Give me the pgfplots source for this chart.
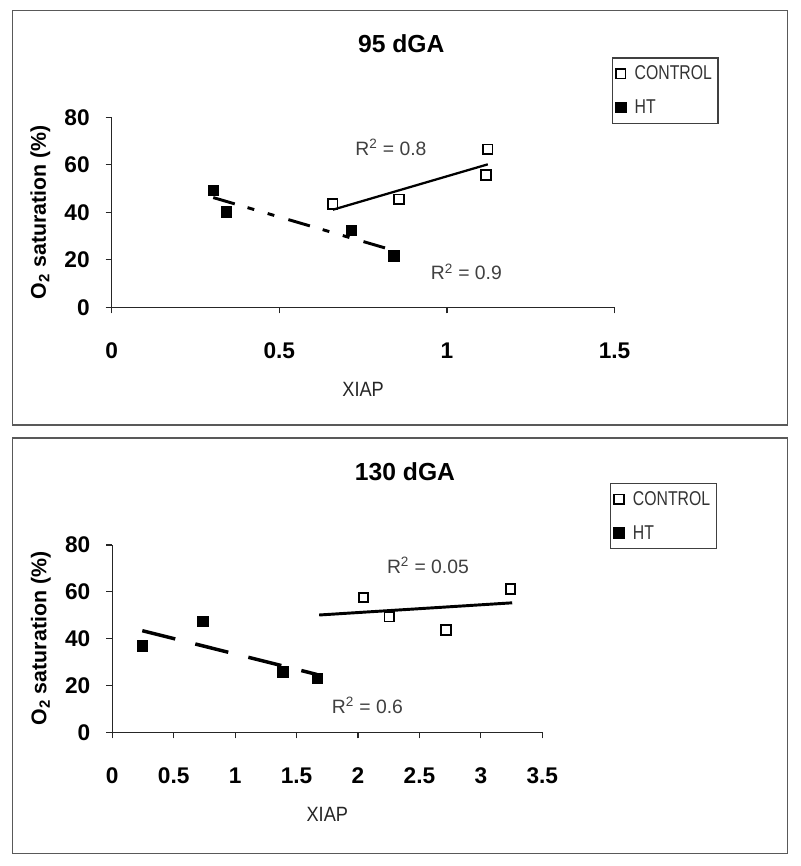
\documentclass[border=0pt]{standalone}
\usepackage{fontspec}
\setmainfont{Liberation Sans}
\newfontfamily\condfont[FakeStretch=0.79]{Liberation Sans}
\newfontfamily\xfont[FakeStretch=0.88]{Liberation Sans}
\usepackage{pgfplots}
\pgfplotsset{compat=1.18}

\tikzset{rsq/.style={font=\fontsize{14.5}{14.5}\selectfont, text=black!75, anchor=base, inner sep=0pt}}
\pgfplotsset{
  panel/.style={
    scale only axis,
    anchor=south west,
    axis x line=bottom, axis y line=left,
    axis line style={-, line width=0.9pt, black!85},
    every tick/.style={line width=0.9pt, black!85},
    tick align=outside, major tick length=4.5pt,
    xmin=0, ymin=0, ymax=80, ytick={0,20,40,60,80},
    clip=false,
    /pgf/number format/assume math mode=true,
    ticklabel style={font=\bfseries\fontsize{17}{17}\selectfont},
    xticklabel style={anchor=north, inner sep=0pt, yshift=-21.8pt},
    yticklabel style={anchor=east, inner sep=0pt, xshift=-11.8pt},
    xlabel={XIAP},
    xlabel style={font=\xfont\fontsize{15.5}{15.5}\selectfont, text=black!85, anchor=center},
    ylabel={O\textsubscript{2} saturation (\%)},
    ylabel style={font=\bfseries\fontsize{16}{16}\selectfont, anchor=center},
    legend style={anchor=north west, draw=black!75, line width=0.9pt, fill=white,
      font=\condfont\fontsize{15}{15}\selectfont\color{black!80},
      inner xsep=2.5pt, inner ysep=3.8pt, row sep=9.5pt, column sep=4.5pt,
      cells={anchor=west}},
  },
  ctrl/.style={only marks, mark=square, mark size=3.6pt,
    mark options={line width=1.3pt, draw=black, fill=white},
    legend image code/.code={\draw[##1] plot coordinates {(0cm,0cm)};}},
  ht/.style={only marks, mark=square*, mark size=3.9pt,
    mark options={draw=black, fill=black},
    legend image code/.code={\draw[##1] plot coordinates {(0cm,0cm)};}},
}

\begin{document}
\begin{tikzpicture}
% canvas 800 x 866 px, 1 px = 0.75 pt
\path[fill=white] (0pt,0pt) rectangle (600pt,-649.5pt);
% frames
\draw[line width=1.2pt, black!65] (9.5pt,-8pt) rectangle (590.5pt,-318.75pt);
\draw[line width=1.2pt, black!65] (9.5pt,-328.7pt) rectangle (590.5pt,-640pt);
% titles
\node[font=\bfseries\fontsize{18.5}{18.5}\selectfont, anchor=center] at (301pt,-33pt) {95 dGA};
\node[font=\bfseries\fontsize{18.5}{18.5}\selectfont, anchor=center] at (303.75pt,-353.6pt) {130 dGA};

% ---------- top panel ----------
\begin{axis}[panel,
  at={(83.775pt,-230.475pt)},
  width=377.1pt, height=142.5pt,
  xmax=1.5, xtick={0,0.5,1,1.5},
  xticklabel style={/pgf/number format/fixed},
  xlabel style={at={(axis description cs:0.5,-0.430)}},
  ylabel style={at={(axis description cs:-0.142,0.5)}},
  legend style={at={(axis description cs:0.9944,1.3158)}},
]
\addplot[ctrl] coordinates {(0.659,43.5) (0.857,45.5) (1.117,55.7) (1.122,66.5)};
\addlegendentry{CONTROL}
\addplot[ht] coordinates {(0.303,49.4) (0.341,40.3) (0.714,32.5) (0.842,21.7)};
\addlegendentry{HT}
\addplot[forget plot, black, line width=1.7pt] coordinates {(0.66,41.1) (1.122,60.2)};
\addplot[forget plot, black, line width=2.2pt,
  dash pattern=on 16.8pt off 10pt on 5.2pt off 10.5pt on 5.2pt off 11pt]
  coordinates {(0.303,46.2) (0.842,23.9)};
\node[rsq] at (axis cs:0.833,63.8) {R\textsuperscript{2} = 0.8};
\node[rsq] at (axis cs:1.058,11.5) {R\textsuperscript{2} = 0.9};
\end{axis}

% ---------- bottom panel ----------
\begin{axis}[panel,
  at={(84.225pt,-549.225pt)},
  width=322.5pt, height=140.5pt,
  xmax=3.5, xtick={0,0.5,1,1.5,2,2.5,3,3.5},
  xticklabel style={/pgf/number format/fixed},
  xlabel style={at={(axis description cs:0.5,-0.436)}},
  ylabel style={at={(axis description cs:-0.166,0.5)}},
  legend style={at={(axis description cs:1.1574,1.331)}},
]
\addplot[ctrl] coordinates {(2.045,57.6) (2.254,49.4) (2.715,43.7) (3.241,61.2)};
\addlegendentry{CONTROL}
\addplot[ht] coordinates {(0.244,37.0) (0.736,47.5) (1.389,25.9) (1.666,23.0)};
\addlegendentry{HT}
\addplot[forget plot, black, line width=2.2pt] coordinates {(1.684,50.1) (3.255,55.3)};
\addplot[forget plot, black, line width=2.6pt, dash pattern=on 25.5pt off 15.5pt]
  coordinates {(0.244,43.4) (1.666,24.7)};
\node[rsq] at (axis cs:2.569,68.0) {R\textsuperscript{2} = 0.05};
\node[rsq] at (axis cs:2.077,8.2) {R\textsuperscript{2} = 0.6};
\end{axis}
\end{tikzpicture}
\end{document}
